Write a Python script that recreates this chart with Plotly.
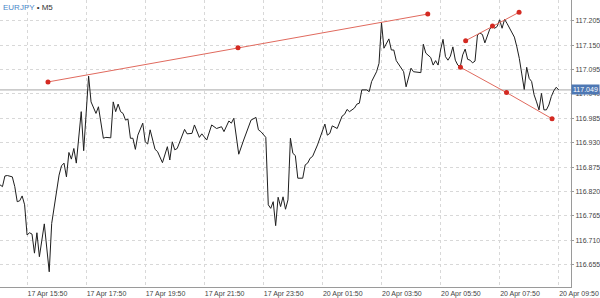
import plotly.graph_objects as go

# bar index (M5 bars, 0 = 17 Apr 15:50) and close prices
bar_idx = [-11, -10, -9, -8, -6, -5, -4, -3, -2, -1, 0, 1, 2, 3, 4, 5, 7, 8, 9, 10,
           12, 13, 14, 15, 16, 17, 18, 19, 20, 22, 23, 25, 26, 28, 29, 30, 31, 32, 34, 35,
           36, 37, 38, 39, 40, 41, 42, 43, 44, 45, 47, 48, 49, 50, 52, 53, 55, 57, 58, 59,
           60, 61, 64, 65, 67, 68, 70, 71, 73, 75, 76, 77, 79, 80, 82, 83, 84, 86, 88, 90,
           91, 93, 94, 95, 97, 98, 99, 100, 101, 102, 103, 104, 105, 106, 107, 108, 109, 110, 112, 113,
           114, 115, 116, 118, 121, 122, 123, 124, 126, 128, 129, 130, 131, 133, 134, 135, 136, 138, 139, 140,
           141, 142, 143, 144, 145, 147, 148, 149, 150, 151, 153, 154, 156, 157, 160, 161, 162, 164, 165, 166,
           167, 168, 169, 170, 171, 172, 173, 174, 175, 176, 177, 178, 179, 180, 181, 182, 183, 184, 185, 186,
           188, 189, 190, 191, 192, 193, 194, 195, 196, 198, 199, 200, 201, 202, 203, 204, 205, 206, 207, 208,
           209, 210, 211, 212, 213, 214, 215, 216]
close = [116.835, 116.831, 116.855, 116.856, 116.853, 116.831, 116.797, 116.799, 116.810, 116.790,
         116.722, 116.727, 116.724, 116.681, 116.727, 116.673, 116.747, 116.699, 116.639, 116.748,
         116.827, 116.857, 116.878, 116.884, 116.853, 116.908, 116.893, 116.917, 116.884, 117.000,
         116.912, 117.080, 117.022, 116.996, 117.011, 116.971, 116.940, 116.942, 116.941, 117.022,
         117.000, 117.017, 117.000, 116.996, 116.981, 116.983, 116.940, 116.940, 116.915, 116.947,
         116.974, 116.932, 116.927, 116.959, 116.915, 116.910, 116.885, 116.921, 116.891, 116.932,
         116.914, 116.917, 116.960, 116.950, 116.951, 116.970, 116.942, 116.950, 116.936, 116.970,
         116.966, 116.962, 116.966, 116.955, 116.979, 116.974, 116.985, 116.904, 116.936, 116.966,
         116.981, 116.987, 116.959, 116.955, 116.942, 116.790, 116.782, 116.797, 116.743, 116.807,
         116.786, 116.808, 116.780, 116.801, 116.940, 116.906, 116.901, 116.850, 116.850, 116.880,
         116.884, 116.895, 116.899, 116.925, 116.972, 116.947, 116.951, 116.968, 116.962, 116.990,
         116.994, 117.005, 117.000, 117.008, 117.017, 117.019, 117.049, 117.049, 117.045, 117.068,
         117.079, 117.090, 117.109, 117.201, 117.143, 117.164, 117.139, 117.139, 117.115, 117.107,
         117.090, 117.056, 117.098, 117.090, 117.088, 117.152, 117.132, 117.122, 117.105, 117.115,
         117.105, 117.139, 117.163, 117.124, 117.116, 117.125, 117.146, 117.116, 117.105, 117.101,
         117.128, 117.141, 117.118, 117.116, 117.110, 117.114, 117.173, 117.177, 117.174, 117.155,
         117.186, 117.193, 117.188, 117.192, 117.207, 117.188, 117.208, 117.199, 117.188, 117.168,
         117.146, 117.120, 117.085, 117.050, 117.100, 117.075, 117.068, 117.038, 117.022, 117.004,
         117.041, 117.004, 117.004, 117.015, 117.034, 117.047, 117.055, 117.049]

# trend lines (anchor bar index, price)
trend1_idx = [8.5, 85.7, 162.8]
trend1_px = [117.067, 117.144, 117.220]
trend2_idx = [178.2, 189.1, 199.9]
trend2_px = [117.160, 117.193, 117.224]
trend3_idx = [176.1, 194.8, 213.3]
trend3_px = [117.100, 117.043, 116.984]

current_price = 117.049

x_tickvals = [0, 24, 48, 72, 96, 120, 144, 168, 192, 216]
x_ticktext = ["17 Apr 15:50", "17 Apr 17:50", "17 Apr 19:50", "17 Apr 21:50", "17 Apr 23:50",
              "20 Apr 01:50", "20 Apr 03:50", "20 Apr 05:50", "20 Apr 07:50", "20 Apr 09:50"]
y_tickvals = [116.655, 116.710, 116.765, 116.820, 116.875, 116.930, 116.985,
              117.040, 117.095, 117.150, 117.205]
y_ticktext = ["116.655", "116.710", "116.765", "116.820", "116.875", "116.930", "116.985",
              "117.040", "117.095", "117.150", "117.205"]

fig = go.Figure()

fig.add_shape(type="line", xref="paper", x0=0, x1=1, yref="y", y0=current_price, y1=current_price,
              line=dict(color="#a8a8a8", width=1), layer="below")

fig.add_trace(go.Scatter(x=bar_idx, y=close, mode="lines",
                         line=dict(color="#1e1e1e", width=1), hoverinfo="skip"))

for tx, ty in [(trend1_idx, trend1_px), (trend2_idx, trend2_px), (trend3_idx, trend3_px)]:
    fig.add_trace(go.Scatter(x=tx, y=ty, mode="lines+markers",
                             line=dict(color="#e06a5e", width=1),
                             marker=dict(color="#d42a22", size=5),
                             hoverinfo="skip"))

fig.update_layout(
    width=600, height=298,
    margin=dict(l=0, r=29, t=0, b=11, autoexpand=False),
    paper_bgcolor="white", plot_bgcolor="white",
    showlegend=False,
    font=dict(family="Liberation Sans, Arial, sans-serif", size=7, color="#444"),
)

fig.update_xaxes(
    range=[-11, 221], automargin=False,
    tickmode="array", tickvals=x_tickvals, ticktext=x_ticktext,
    ticklabelposition="outside right", ticklabeloverflow="allow",
    ticks="", ticklabelstandoff=0, showgrid=True, gridcolor="#d8d8d8", griddash="dot", gridwidth=1,
    showline=True, linecolor="#9a9a9a", linewidth=1, mirror=True,
    zeroline=False, tickfont=dict(size=7, color="#444"),
)
fig.update_yaxes(
    range=[116.6047, 117.2517], side="right", automargin=False,
    tickmode="array", tickvals=y_tickvals, ticktext=y_ticktext,
    ticks="outside", ticklen=2, tickcolor="#9a9a9a", ticklabelstandoff=0,
    showgrid=True, gridcolor="#d8d8d8", griddash="dot", gridwidth=1,
    showline=True, linecolor="#9a9a9a", linewidth=1, mirror=True,
    zeroline=False, tickfont=dict(size=7, color="#444"),
)

fig.add_annotation(xref="paper", x=1.0, yref="y", y=current_price, xanchor="left", yanchor="middle",
                   text="117.049", showarrow=False, bgcolor="#4e78b4",
                   font=dict(size=7, color="white"), borderpad=1, xshift=0)

fig.add_annotation(xref="paper", x=0, yref="paper", y=1, xanchor="left", yanchor="top",
                   text="<span style='color:#4a86c8'>EURJPY</span> • M5", showarrow=False,
                   font=dict(size=8, color="#333"), xshift=1, yshift=-1)

fig.write_html("out.html")
